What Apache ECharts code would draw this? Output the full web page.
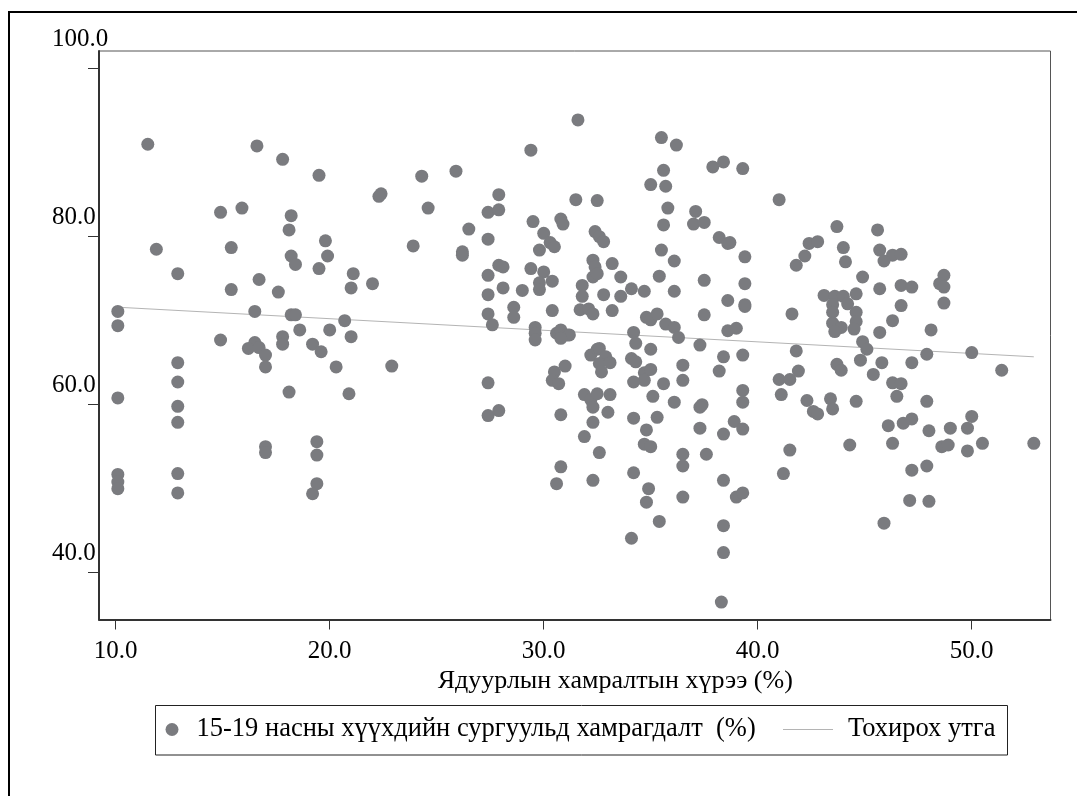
<!DOCTYPE html>
<html>
<head>
<meta charset="utf-8">
<script src="https://cdn.jsdelivr.net/npm/echarts@6/dist/echarts.min.js"></script>
<style>
  html, body { margin: 0; padding: 0; background: #fff; }
  #chart { width: 1077px; height: 796px; }
</style>
</head>
<body>
<div id="chart"></div>
<script>
// Poverty headcount rate (%) for each unit
const povertyRate = [
  11.5, 16.6, 17.8, 19.5, 22.4, 22.3, 14.9, 15.9, 18.2, 18.1,
  11.9, 15.4, 19.8, 18.2, 18.4, 19.9, 19.5, 12.9, 16.7, 15.4,
  17.6, 21.1, 21.0, 22.0, 23.9, 10.1, 10.1, 16.5, 18.2, 18.4,
  20.7, 18.6, 20.0, 21.0, 14.9, 17.8, 17.8, 19.2, 19.6, 16.5,
  16.2, 16.7, 17.0, 12.9, 17.0, 20.3, 22.9, 12.9, 10.1, 12.9,
  12.9, 18.1, 20.9, 17.0, 17.0, 19.4, 19.4, 10.1, 10.1, 10.1,
  12.9, 12.9, 19.4, 19.2,
  31.6, 29.4, 24.3, 25.9, 24.6, 27.9, 27.4, 27.9, 31.5, 32.5,
  29.5, 30.8, 30.9, 26.5, 27.4, 26.2, 26.2, 30.0, 30.3, 30.5,
  29.8, 32.4, 32.6, 32.8, 27.9, 28.1, 27.4, 29.4, 30.0, 30.4,
  29.8, 29.8, 31.8, 31.8, 32.3, 32.4, 32.3, 32.5, 27.4, 28.1,
  29.0, 27.4, 27.6, 28.6, 28.6, 30.4, 31.7, 32.1, 32.3, 29.6,
  29.6, 29.6, 30.6, 30.8, 31.1, 31.2, 30.8, 32.2, 32.5, 30.5,
  31.0, 30.4, 30.7, 27.4, 27.4, 27.9, 30.8, 31.9, 32.2, 32.3,
  32.5, 32.3, 31.9, 32.6, 30.8, 30.6, 32.3,
  35.5, 36.2, 37.9, 38.4, 39.3, 41.0, 35.6, 35.0, 35.7, 35.8,
  37.1, 37.0, 37.5, 35.6, 38.2, 38.6, 38.7, 35.5, 36.1, 39.4,
  33.2, 33.6, 35.4, 37.5, 39.4, 32.8, 33.6, 34.1, 34.7, 36.1,
  38.6, 39.4, 39.4, 33.2, 34.8, 35.0, 35.3, 35.7, 36.1, 36.3,
  37.5, 34.2, 34.3, 38.6, 39.0, 41.6, 32.6, 35.0, 37.3, 32.9,
  32.6, 33.1, 32.7, 34.1, 34.3, 34.7, 35.0, 34.7, 34.2, 35.6,
  36.5, 36.5, 38.4, 39.3, 38.2, 41.0, 41.5, 41.1, 33.1, 33.0,
  35.1, 36.1, 37.4, 37.3, 39.3, 39.3, 34.2, 35.3, 34.8, 37.3,
  38.9, 39.3, 38.4, 34.7, 35.0, 36.5, 36.5, 37.6, 34.2, 38.4,
  34.9, 34.8, 36.5, 39.0, 39.3, 35.4, 34.1, 38.4, 38.4, 38.3,
  41.5, 41.2,
  43.7, 45.6, 42.4, 42.8, 42.2, 41.8, 44.0, 44.1, 45.7, 46.3,
  46.7, 45.9, 44.9, 48.7, 48.5, 48.7, 45.7, 46.7, 47.2, 43.1,
  43.6, 44.0, 44.2, 44.6, 43.5, 43.5, 44.6, 44.6, 44.5, 43.5,
  43.9, 43.6, 48.7, 46.7, 46.3, 45.7, 48.1, 44.9, 45.1, 41.8,
  44.8, 45.8, 47.2, 47.9, 50.0, 51.4, 43.7, 43.9, 41.9, 45.4,
  46.3, 46.7, 46.5, 42.3, 43.4, 43.5, 42.6, 42.8, 44.6, 47.9,
  46.1, 46.8, 47.2, 48.0, 49.0, 49.8, 50.0, 44.3, 46.3, 48.6,
  48.9, 49.8, 50.5, 52.9, 47.2, 47.9, 47.1, 48.0, 45.9
];

// School enrolment of children aged 15-19 (%), same order as povertyRate
const enrolment = [
  91.0, 90.8, 89.2, 87.3, 85.1, 84.8, 82.9, 83.4, 82.5, 80.8,
  78.5, 78.7, 79.5, 77.7, 76.7, 77.7, 76.2, 75.6, 74.9, 73.7,
  73.4, 75.6, 73.9, 74.4, 78.9, 71.1, 69.4, 71.1, 70.7, 70.7,
  70.0, 68.9, 68.9, 68.1, 67.7, 68.1, 67.2, 67.2, 66.3, 67.4,
  66.7, 66.8, 65.9, 65.0, 64.5, 64.5, 64.6, 62.7, 60.8, 59.8,
  57.9, 61.5, 61.3, 55.0, 54.3, 55.6, 54.0, 51.7, 50.8, 50.0,
  51.8, 49.5, 50.6, 49.4,
  93.9, 90.3, 87.2, 87.8, 83.4, 85.0, 82.9, 83.2, 84.4, 84.3,
  81.8, 82.1, 81.5, 80.9, 79.7, 78.2, 77.8, 80.4, 79.3, 78.8,
  78.4, 80.6, 80.0, 79.4, 76.6, 76.4, 75.4, 76.2, 75.8, 74.7,
  74.5, 73.7, 74.2, 72.9, 77.2, 76.4, 75.2, 75.6, 73.1, 73.9,
  73.6, 70.8, 69.5, 71.6, 70.4, 71.2, 71.3, 71.4, 70.8, 69.2,
  68.5, 67.7, 68.5, 68.9, 68.3, 68.3, 67.9, 65.9, 66.6, 63.9,
  64.6, 62.9, 62.5, 62.6, 58.7, 59.3, 58.8, 61.2, 60.6, 59.7,
  61.3, 57.9, 56.2, 54.3, 52.6, 50.6, 51.0,
  91.8, 90.9, 88.3, 88.9, 88.1, 84.4, 87.9, 86.2, 86.0, 83.4,
  83.0, 81.5, 81.7, 81.4, 79.9, 79.2, 79.3, 78.4, 77.1, 77.6,
  76.8, 75.2, 75.3, 74.8, 74.4, 73.1, 72.9, 73.8, 73.5, 73.5,
  72.4, 71.7, 71.9, 71.2, 70.4, 70.1, 70.8, 69.6, 69.2, 68.0,
  70.7, 68.6, 67.3, 68.8, 69.1, 70.8, 66.7, 66.6, 67.1, 65.7,
  64.9, 65.0, 63.9, 65.5, 65.1, 63.8, 64.2, 62.9, 62.7, 62.5,
  64.7, 62.9, 65.7, 65.9, 64.0, 63.0, 63.0, 61.2, 61.2, 59.1,
  61.0, 60.3, 60.0, 59.7, 61.7, 60.3, 58.4, 58.5, 57.0, 57.2,
  58.0, 57.1, 56.5, 55.3, 55.0, 54.1, 52.7, 54.1, 51.9, 51.0,
  50.0, 48.4, 49.0, 49.0, 49.5, 46.1, 44.1, 45.6, 42.4, 36.5,
  54.6, 51.8,
  81.2, 80.8, 79.2, 79.4, 77.7, 76.6, 78.7, 77.0, 78.4, 77.8,
  77.9, 77.1, 75.2, 75.4, 74.4, 74.0, 73.8, 74.2, 74.0, 73.0,
  72.9, 72.9, 72.0, 73.2, 71.9, 71.0, 71.0, 69.9, 69.0, 69.7,
  69.2, 68.7, 72.1, 71.8, 70.0, 68.6, 68.9, 67.5, 66.6, 66.4,
  65.3, 65.0, 65.0, 66.0, 66.2, 64.1, 64.8, 64.1, 64.0, 63.6,
  62.6, 62.5, 61.0, 60.5, 60.7, 59.5, 59.2, 58.9, 60.4, 60.4,
  57.5, 57.8, 58.3, 56.9, 57.2, 57.2, 58.6, 55.2, 55.4, 55.0,
  55.2, 54.5, 55.4, 55.4, 52.2, 52.7, 48.6, 48.5, 45.9
];

// Fitted values at the ends of the data range
const fitX = [10.1, 52.9];
const fitY = [71.6, 65.7];

// Tick positions
const xTicks = [10, 20, 30, 40, 50];
const yTicks = [40, 60, 80, 100];

const scatterName = '15-19 насны хүүхдийн сургуульд хамрагдалт  (%)';
const fitName = 'Тохирох утга';
const xTitle = 'Ядуурлын хамралтын хүрээ (%)';

const FONT = 'Liberation Serif';
const points = povertyRate.map((x, i) => [x, enrolment[i]]);
const fitLine = fitX.map((x, i) => [x, fitY[i]]);

const chart = echarts.init(document.getElementById('chart'), null, { renderer: 'canvas' });

chart.setOption({
  animation: false,
  backgroundColor: '#fff',
  grid: {
    left: 99, top: 51, right: 26.5, bottom: 176.5,
    show: true, borderColor: '#555', borderWidth: 1, backgroundColor: '#fff'
  },
  xAxis: {
    type: 'value',
    min: 9.22, max: 53.68,
    name: xTitle,
    nameLocation: 'middle',
    nameGap: 48,
    nameTextStyle: { fontFamily: FONT, fontSize: 26, color: '#000', padding: [0, 0, 0, 81] },
    axisLine: { show: true, onZero: false, lineStyle: { color: '#333', width: 2 } },
    axisTick: { show: true, customValues: xTicks, length: 10, lineStyle: { color: '#333', width: 1 } },
    axisLabel: {
      customValues: xTicks, margin: 19,
      formatter: v => v.toFixed(1),
      fontFamily: FONT, fontSize: 25, color: '#000'
    },
    splitLine: { show: false }
  },
  yAxis: {
    type: 'value',
    min: 34.43, max: 102.1,
    axisLine: { show: true, onZero: false, lineStyle: { color: '#333', width: 2 } },
    axisTick: { show: true, customValues: yTicks, length: 11, lineStyle: { color: '#333', width: 1 } },
    axisLabel: {
      customValues: yTicks, margin: 47, align: 'left', verticalAlign: 'bottom',
      formatter: v => (v === 100 ? '{top|' : '{std|') + v.toFixed(1) + '}',
      rich: {
        top: { fontFamily: FONT, fontSize: 25, color: '#000', padding: [0, 0, 17, 0] },
        std: { fontFamily: FONT, fontSize: 25, color: '#000', padding: [0, 0, 7, 0] }
      },
      fontFamily: FONT, fontSize: 25, color: '#000'
    },
    splitLine: { show: false }
  },
  legend: [
    {
      data: [{ name: scatterName, icon: 'circle' }],
      left: 165.5, top: 716, padding: 0,
      itemWidth: 13, itemHeight: 13,
      textStyle: { fontFamily: FONT, fontSize: 26.5, color: '#000', padding: [0, 0, 0, 13] }
    },
    {
      data: [{ name: fitName, icon: 'rect' }],
      left: 783, top: 716, padding: 0,
      itemWidth: 50, itemHeight: 1,
      textStyle: { fontFamily: FONT, fontSize: 26.5, color: '#000', padding: [0, 0, 0, 10] }
    }
  ],
  graphic: [
    {
      type: 'rect', silent: true, z: -1,
      shape: { x: 9, y: 12, width: 1300, height: 1000 },
      style: { fill: 'none', stroke: '#000', lineWidth: 2 }
    },
    {
      type: 'rect', silent: true,
      shape: { x: 155.5, y: 705.5, width: 852, height: 49.5 },
      style: { fill: 'none', stroke: '#222', lineWidth: 1 }
    }
  ],
  series: [
    {
      name: scatterName,
      type: 'scatter',
      data: points,
      symbol: 'circle',
      symbolSize: 13,
      itemStyle: { color: '#7a7b7f', opacity: 1 },
      z: 3
    },
    {
      name: fitName,
      type: 'line',
      data: fitLine,
      symbol: 'none',
      lineStyle: { color: '#b4b4b4', width: 1 },
      itemStyle: { color: '#b4b4b4' },
      z: 2
    }
  ]
});
</script>
</body>
</html>
